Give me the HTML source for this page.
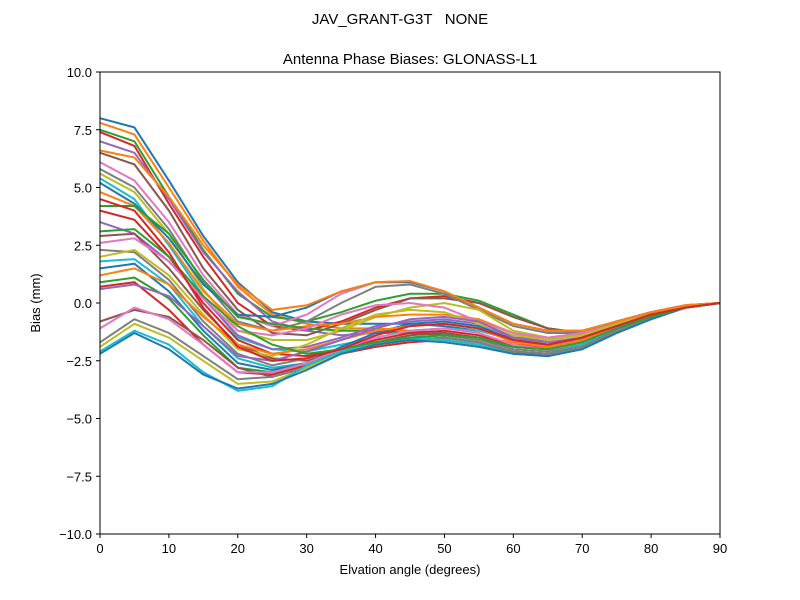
<!DOCTYPE html>
<html><head><meta charset="utf-8"><style>body{margin:0;background:#fff}svg{display:block;font-family:"Liberation Sans","DejaVu Sans",sans-serif}</style></head>
<body>
<svg id="chart" width="800" height="600" viewBox="0 0 800 600">
<rect width="800" height="600" fill="#fff"/>
<text x="400" y="24" text-anchor="middle" font-size="15" style="white-space:pre">JAV_GRANT-G3T   NONE</text>
<text x="410" y="64" text-anchor="middle" font-size="15">Antenna Phase Biases: GLONASS-L1</text>
<g id="lines"></g>
<g id="xt"></g>
<g id="yt"></g>
<rect x="100" y="72" width="620" height="462" fill="none" stroke="#000" stroke-width="1"/>
<text x="410" y="574" text-anchor="middle" font-size="13">Elvation angle (degrees)</text>
<text transform="translate(40,303) rotate(-90)" text-anchor="middle" font-size="13">Bias (mm)</text>
</svg>
<script>
const elevations=[0,5,10,15,20,25,30,35,40,45,50,55,60,65,70,75,80,85,90];
const xTicks=[0,10,20,30,40,50,60,70,80,90];
const yTicks=[-10,-7.5,-5,-2.5,0,2.5,5,7.5,10];
const yTickLabels=["\u221210.0","\u22127.5","\u22125.0","\u22122.5","0.0","2.5","5.0","7.5","10.0"];
const s1=[8.0,7.6,5.3,2.9,0.9,-0.4,-0.8,-0.9,-0.9,-0.9,-1.0,-1.2,-1.5,-1.6,-1.3,-0.8,-0.4,-0.1,0];
const s2=[7.8,7.3,5.0,2.7,0.7,-0.5,-0.9,-1.1,-1.1,-1.2,-1.3,-1.5,-1.7,-1.8,-1.5,-1.0,-0.5,-0.2,0];
const s3=[7.5,7.0,4.6,2.3,0.4,-0.6,-0.8,-0.4,0.1,0.4,0.4,0.1,-0.5,-1.1,-1.3,-0.8,-0.4,-0.1,0];
const s4=[7.4,6.8,4.3,2.0,0.0,-1.0,-1.2,-0.8,-0.2,0.2,0.3,0.0,-0.6,-1.1,-1.3,-0.9,-0.5,-0.1,0];
const s5=[7.0,6.5,4.5,2.2,0.5,-0.8,-1.2,-1.4,-1.3,-1.3,-1.3,-1.5,-1.8,-1.9,-1.6,-1.1,-0.6,-0.2,0];
const s6=[6.5,6.0,4.0,1.5,-0.3,-1.3,-1.4,-0.9,-0.3,0.2,0.2,0.0,-0.6,-1.1,-1.3,-0.8,-0.4,-0.1,0];
const s7=[6.1,5.3,3.5,1.2,-0.5,-1.0,-0.5,0.4,0.9,0.95,0.5,-0.2,-0.9,-1.2,-1.2,-0.8,-0.4,-0.1,0];
const s8=[5.8,5.0,3.2,0.9,-0.8,-1.2,-0.8,0.0,0.7,0.8,0.4,-0.3,-1.0,-1.3,-1.3,-0.9,-0.4,-0.1,0];
const s9=[5.6,4.8,3.0,0.6,-1.2,-1.6,-1.6,-1.2,-0.6,-0.2,0.0,-0.3,-1.2,-1.5,-1.4,-0.9,-0.5,-0.1,0];
const s10=[5.4,4.5,2.5,0.3,-1.5,-2.0,-2.1,-1.8,-1.5,-1.2,-1.1,-1.2,-1.6,-1.8,-1.5,-1.0,-0.5,-0.2,0];
const s11=[5.2,4.3,2.8,0.8,-0.5,-0.6,-0.2,0.5,0.9,0.9,0.5,-0.2,-0.9,-1.2,-1.2,-0.8,-0.4,-0.1,0];
const s12=[4.8,4.2,2.6,0.5,-0.9,-1.2,-1.0,-0.9,-0.6,-0.5,-0.5,-0.7,-1.3,-1.6,-1.4,-0.9,-0.5,-0.1,0];
const s13=[4.2,4.2,3.0,1.0,-0.6,-0.9,-1.1,-1.2,-1.2,-1.3,-1.4,-1.6,-1.9,-2.0,-1.7,-1.1,-0.6,-0.2,0];
const s14=[4.0,3.6,2.0,0.0,-1.6,-2.2,-2.3,-2.0,-1.6,-1.3,-1.2,-1.4,-1.8,-1.9,-1.6,-1.0,-0.5,-0.2,0];
const s15=[3.5,3.0,1.8,0.2,-1.4,-2.0,-1.9,-1.5,-1.0,-0.8,-0.7,-0.9,-1.5,-1.7,-1.5,-1.0,-0.5,-0.1,0];
const s16=[2.9,3.0,1.5,-0.3,-1.8,-2.4,-2.5,-2.1,-1.7,-1.4,-1.3,-1.5,-1.9,-2.0,-1.7,-1.1,-0.6,-0.2,0];
const s17=[2.6,2.8,1.8,0.2,-1.2,-1.4,-1.1,-0.5,-0.1,0.0,-0.2,-0.8,-1.3,-1.5,-1.3,-0.9,-0.4,-0.1,0];
const s18=[2.3,2.2,1.0,-0.8,-2.2,-2.7,-2.4,-2.0,-1.7,-1.5,-1.4,-1.6,-2.0,-2.1,-1.8,-1.2,-0.6,-0.2,0];
const s19=[2.0,2.3,1.2,-0.5,-2.0,-2.3,-1.8,-1.1,-0.5,-0.3,-0.4,-0.9,-1.4,-1.6,-1.4,-0.9,-0.5,-0.1,0];
const s20=[1.8,1.9,0.8,-1.0,-2.4,-2.8,-2.6,-2.2,-1.8,-1.6,-1.5,-1.7,-2.1,-2.2,-1.8,-1.2,-0.6,-0.2,0];
const s21=[1.5,1.7,0.5,-1.2,-2.6,-2.9,-2.6,-1.9,-1.3,-0.9,-0.8,-1.0,-1.6,-1.8,-1.5,-1.0,-0.5,-0.2,0];
const s22=[1.2,1.5,0.8,-0.6,-1.8,-2.2,-2.0,-1.6,-1.2,-1.0,-0.9,-1.1,-1.7,-1.9,-1.6,-1.0,-0.5,-0.1,0];
const s23=[0.9,1.1,0.2,-1.4,-2.8,-3.0,-2.6,-2.1,-1.8,-1.6,-1.6,-1.8,-2.1,-2.2,-1.9,-1.2,-0.7,-0.2,0];
const s24=[0.7,0.9,-0.3,-1.8,-3.0,-3.1,-2.7,-2.2,-1.9,-1.7,-1.6,-1.8,-2.2,-2.2,-1.9,-1.2,-0.6,-0.2,0];
const s25=[0.6,0.8,0.3,-1.0,-2.3,-2.5,-2.1,-1.6,-1.1,-0.7,-0.6,-0.8,-1.5,-1.8,-1.5,-1.0,-0.5,-0.2,0];
const s26=[-0.8,-0.3,-0.6,-1.6,-2.8,-3.2,-2.8,-2.2,-1.8,-1.6,-1.5,-1.7,-2.1,-2.2,-1.9,-1.2,-0.6,-0.2,0];
const s27=[-1.1,-0.2,-0.7,-1.8,-3.0,-3.0,-2.6,-2.0,-1.5,-1.2,-1.1,-1.3,-1.8,-2.0,-1.7,-1.1,-0.6,-0.2,0];
const s28=[-1.7,-0.7,-1.3,-2.3,-3.3,-3.2,-2.8,-2.2,-1.8,-1.6,-1.5,-1.7,-2.1,-2.2,-1.9,-1.2,-0.7,-0.2,0];
const s29=[-1.9,-0.9,-1.5,-2.5,-3.5,-3.4,-2.8,-2.1,-1.8,-1.6,-1.6,-1.8,-2.2,-2.3,-2.0,-1.3,-0.7,-0.2,0];
const s30=[-2.1,-1.2,-1.8,-3.0,-3.8,-3.6,-2.7,-2.1,-1.7,-1.5,-1.6,-1.8,-2.2,-2.3,-2.0,-1.3,-0.7,-0.2,0];
const s31=[-2.2,-1.3,-2.0,-3.1,-3.7,-3.5,-2.9,-2.2,-1.8,-1.6,-1.7,-1.9,-2.2,-2.3,-2.0,-1.3,-0.7,-0.2,0];
const s32=[6.6,6.3,4.6,2.5,0.8,-0.3,-0.1,0.5,0.9,0.95,0.5,-0.2,-0.9,-1.2,-1.2,-0.8,-0.4,-0.1,0];
const s33=[3.1,3.2,2.0,0.3,-1.0,-1.8,-2.2,-2.0,-1.7,-1.5,-1.4,-1.5,-1.9,-2.0,-1.7,-1.1,-0.6,-0.2,0];
const s34=[4.5,4.0,2.2,-0.2,-1.9,-2.5,-2.4,-2.0,-1.4,-1.0,-0.9,-1.1,-1.6,-1.8,-1.5,-1.0,-0.5,-0.2,0];
const series=[s1,s2,s3,s4,s5,s6,s7,s8,s9,s10,s11,s12,s13,s14,s15,s16,s17,s18,s19,s20,s21,s22,s23,s24,s25,s26,s27,s28,s29,s30,s31,s32,s33,s34];
const colors=["#1f77b4","#ff7f0e","#2ca02c","#d62728","#9467bd","#8c564b","#e377c2","#7f7f7f","#bcbd22","#17becf"];
const NS="http://www.w3.org/2000/svg";
function xs(v){return 100+(v-0)/90*620;}
function ys(v){return 303-v*23.1;}
const lg=document.getElementById('lines');
series.forEach((s,i)=>{
  const p=document.createElementNS(NS,'polyline');
  p.setAttribute('points',s.map((v,j)=>xs(elevations[j]).toFixed(1)+','+ys(v).toFixed(1)).join(' '));
  p.setAttribute('fill','none');p.setAttribute('stroke',colors[i%10]);p.setAttribute('stroke-width','2');
  
  
  lg.appendChild(p);
});
const xg=document.getElementById('xt');
xTicks.forEach(t=>{
  const l=document.createElementNS(NS,'line');
  l.setAttribute('x1',xs(t));l.setAttribute('x2',xs(t));l.setAttribute('y1',534);l.setAttribute('y2',538);l.setAttribute('stroke','#000');
  
  
  xg.appendChild(l);
  const tx=document.createElementNS(NS,'text');
  tx.setAttribute('x',xs(t));tx.setAttribute('y',553);tx.setAttribute('text-anchor','middle');tx.setAttribute('font-size','13');
  tx.textContent=t;
  
  
  xg.appendChild(tx);
});
const yg=document.getElementById('yt');
yTicks.forEach((t,i)=>{
  const l=document.createElementNS(NS,'line');
  l.setAttribute('x1',96);l.setAttribute('x2',100);l.setAttribute('y1',ys(t));l.setAttribute('y2',ys(t));l.setAttribute('stroke','#000');
  
  
  yg.appendChild(l);
  const tx=document.createElementNS(NS,'text');
  tx.setAttribute('x',92);tx.setAttribute('y',ys(t)+5);tx.setAttribute('text-anchor','end');tx.setAttribute('font-size','13');
  tx.textContent=yTickLabels[i];
  
  
  yg.appendChild(tx);
});
</script>
</body></html>
